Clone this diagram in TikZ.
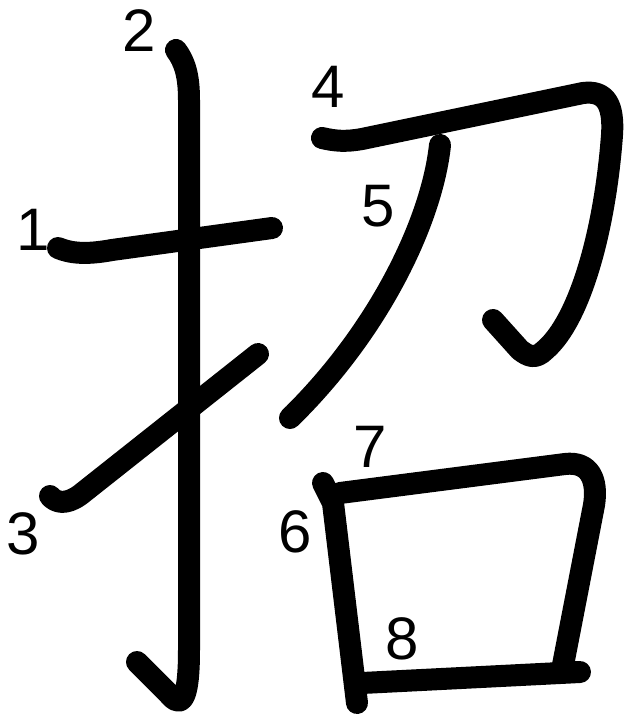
\documentclass[tikz,border=0pt]{standalone}
\usepackage{fontspec}
\setmainfont{Liberation Sans}

\begin{document}
\begin{tikzpicture}[x=1pt, y=-1pt,
  stroke/.style={line width=22pt, line cap=round, line join=round},
  num/.style={inner sep=0pt, font=\fontsize{60}{60}\selectfont}]
  \useasboundingbox (0,0) rectangle (629,726);

  % stroke numbers
  \node[num] (n1) at (33,230) {1};
  \node[num] (n2) at (139,31) {2};
  \node[num] (n3) at (23,534) {3};
  \node[num] (n4) at (328,87) {4};
  \node[num] (n5) at (378,206) {5};
  \node[num] (n6) at (295,532) {6};
  \node[num] (n7) at (370,447) {7};
  \node[num] (n8) at (402,639) {8};

  % left part (hand radical)
  \draw[stroke] (58,248) .. controls (70,253) and (85,255) .. (112,250) -- (272,228);
  \draw[stroke] (176,50) .. controls (185,62) and (189,76) .. (189,100) -- (189,650)
    .. controls (189,705) and (180,708) .. (168,693) -- (137,662);
  \draw[stroke] (50,496) .. controls (56,503) and (66,505) .. (80,495) -- (258,354);

  % knife
  \draw[stroke] (322,138) .. controls (335,141) and (345,142) .. (362,139) -- (583,93)
    .. controls (606,90) and (614,105) .. (612,135)
    .. controls (605,230) and (580,320) .. (545,350)
    .. controls (535,360) and (528,356) .. (520,350) -- (493,320);
  \draw[stroke] (440,145) .. controls (432,220) and (380,330) .. (290,418);

  % mouth
  \draw[stroke] (323,483) -- (333,503) -- (357,703);
  \draw[stroke] (340,493) -- (565,464) .. controls (590,461) and (598,480) .. (594,505) -- (563,665);
  \draw[stroke] (362,683) -- (580,672);
\end{tikzpicture}
\end{document}
